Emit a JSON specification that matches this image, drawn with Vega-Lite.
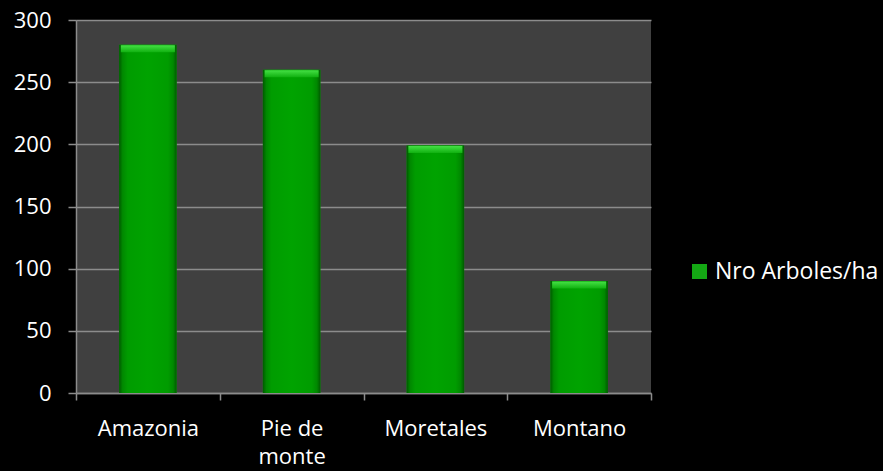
{
  "$schema": "https://vega.github.io/schema/vega-lite/v6.json",
  "width": 575,
  "height": 373,
  "autosize": "none",
  "padding": {"left": 76, "top": 20, "right": 232, "bottom": 78},
  "background": "#000000",
  "view": {"fill": "#404040", "stroke": null},
  "config": {
    "font": "Open Sans",
    "axis": {
      "labelColor": "#ffffff",
      "labelFont": "Open Sans",
      "labelFontSize": 22,
      "domainColor": "#8c8c8c",
      "domainWidth": 1.5,
      "tickColor": "#8c8c8c",
      "tickWidth": 1.5,
      "gridColor": "#8c8c8c",
      "gridWidth": 1.5,
      "title": null
    },
    "legend": {
      "labelColor": "#ffffff",
      "labelFont": "Open Sans",
      "labelFontSize": 23,
      "labelLimit": 400
    }
  },
  "data": {
    "values": [
      {"zona": "Amazonia", "arboles": 280, "serie": "Nro Arboles/ha"},
      {"zona": "Pie de monte", "arboles": 260, "serie": "Nro Arboles/ha"},
      {"zona": "Moretales", "arboles": 199, "serie": "Nro Arboles/ha"},
      {"zona": "Montano", "arboles": 90, "serie": "Nro Arboles/ha"}
    ]
  },
  "encoding": {
    "x": {
      "field": "zona",
      "type": "nominal",
      "sort": null,
      "scale": {"paddingInner": 0, "paddingOuter": 0},
      "axis": {
        "labelAngle": 0,
        "tickBand": "extent",
        "tickSize": 7,
        "labelPadding": 18,
        "grid": false,
        "labelExpr": "datum.label == 'Pie de monte' ? ['Pie de', 'monte'] : datum.label",
        "labelLineHeight": 28
      }
    },
    "y": {
      "field": "arboles",
      "type": "quantitative",
      "scale": {"domain": [0, 300], "nice": false},
      "axis": {
        "values": [0, 50, 100, 150, 200, 250, 300],
        "tickSize": 8,
        "labelPadding": 17,
        "grid": true
      }
    }
  },
  "layer": [
    {
      "mark": {"type": "bar", "width": {"band": 0.4}},
      "encoding": {
        "color": {
          "field": "serie",
          "type": "nominal",
          "scale": {"range": ["#14a814"]},
          "legend": {
            "title": null,
            "orient": "none",
            "legendX": 612,
            "legendY": 240,
            "symbolType": "square",
            "symbolSize": 225,
            "symbolStrokeWidth": 0,
            "labelOffset": 4
          }
        }
      }
    },
    {
      "mark": {
        "type": "bar",
        "width": {"band": 0.4},
        "fill": {
          "gradient": "linear",
          "x1": 0, "y1": 0, "x2": 1, "y2": 0,
          "stops": [
            {"offset": 0, "color": "#005a00"},
            {"offset": 0.06, "color": "#008800"},
            {"offset": 0.15, "color": "#009c00"},
            {"offset": 0.5, "color": "#00a300"},
            {"offset": 0.85, "color": "#009c00"},
            {"offset": 0.94, "color": "#008800"},
            {"offset": 1, "color": "#005a00"}
          ]
        }
      },
      "encoding": {}
    },
    {
      "mark": {
        "type": "tick",
        "size": 54,
        "thickness": 7,
        "yOffset": 4,
        "fill": {
          "gradient": "linear",
          "x1": 0, "y1": 0, "x2": 0, "y2": 1,
          "stops": [
            {"offset": 0, "color": "#44e044"},
            {"offset": 1, "color": "#10b010"}
          ]
        },
        "opacity": 1
      },
      "encoding": {}
    }
  ]
}
